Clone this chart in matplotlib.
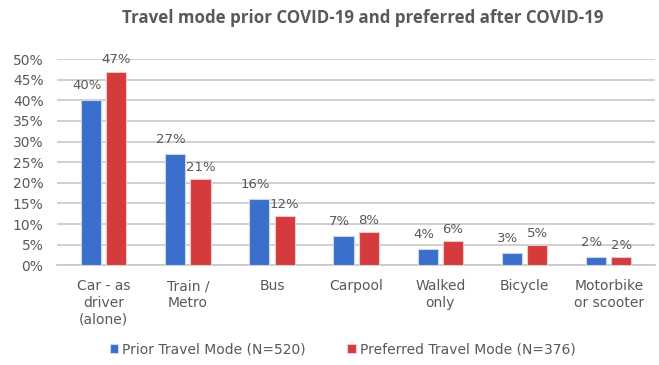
import matplotlib
matplotlib.use("Agg")
import matplotlib.pyplot as plt
import numpy as np

categories = ["Car - as\ndriver\n(alone)", "Train /\nMetro", "Bus", "Carpool", "Walked\nonly", "Bicycle", "Motorbike\nor scooter"]
prior = [40, 27, 16, 7, 4, 3, 2]
preferred = [47, 21, 12, 8, 6, 5, 2]
series_names = ["Prior Travel Mode (N=520)", "Preferred Travel Mode (N=376)"]
yticks = [0, 5, 10, 15, 20, 25, 30, 35, 40, 45, 50]

plt.rcParams['font.family'] = ['DejaVu Sans']
fig = plt.figure(figsize=(6.59, 3.65), dpi=100)
ax = fig.add_axes([0.087, 0.273, 0.907, 0.565])

x = np.arange(len(categories))
w = 0.24
gap = 0.03
blue = "#3a6fcc"
red = "#d53a3c"
txt = "#595959"
b1 = ax.bar(x - w/2 - gap, prior, w, color=blue, edgecolor="#c9d6ee", linewidth=0.8, label=series_names[0], zorder=3)
b2 = ax.bar(x + w/2 + gap, preferred, w, color=red, edgecolor="#efc8c8", linewidth=0.8, label=series_names[1], zorder=3)

for xi, v in zip(x - w/2 - gap, prior):
    ax.text(xi - 0.05, v + 3.6, f"{v}%", ha="center", va="center", fontsize=9.5, color=txt, zorder=4)
for xi, v in zip(x + w/2 + gap, preferred):
    ax.text(xi, v + 2.8, f"{v}%", ha="center", va="center", fontsize=9.5, color=txt, zorder=4)

ax.set_ylim(0, 50)
ax.set_xlim(-0.55, len(categories) - 0.45)
ax.set_yticks(yticks)
ax.set_yticklabels([f"{t}%" for t in yticks], fontsize=10, color=txt)
ax.set_xticks(x)
ax.set_xticklabels(categories, fontsize=10, color=txt, linespacing=1.25)
ax.tick_params(axis="x", length=0, pad=10)
ax.tick_params(axis="y", length=0, pad=10)
ax.yaxis.grid(True, color="#c8c8c8", linewidth=1.2, zorder=0)
for s in ["top", "right", "left"]:
    ax.spines[s].set_visible(False)
ax.spines["bottom"].set_color("#c8c8c8")
ax.spines["bottom"].set_linewidth(1.2)

fig.suptitle("Travel mode prior COVID-19 and preferred after COVID-19", x=0.551, y=0.975,
             fontsize=12.2, fontweight="bold", color=txt, family=["Open Sans", "DejaVu Sans"])

fig.legend(handles=[b1, b2], labels=series_names, loc="center", bbox_to_anchor=(0.52, 0.042),
           ncol=2, frameon=False, fontsize=10, handlelength=0.6, handleheight=0.6,
           handletextpad=0.3, columnspacing=3.0, labelcolor=txt)

fig.savefig("out.png", dpi=100)
